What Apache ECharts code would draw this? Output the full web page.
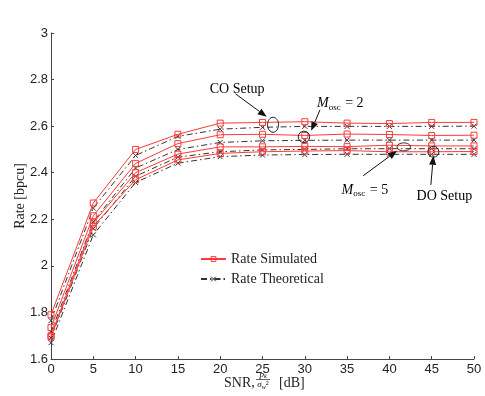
<!DOCTYPE html>
<html>
<head>
<meta charset="utf-8">
<script src="https://cdn.jsdelivr.net/npm/echarts@6/dist/echarts.min.js"></script>
<style>
  html, body { margin: 0; padding: 0; background: #fff; }
  #chart { width: 485px; height: 396px; }
</style>
</head>
<body>
<div id="chart"></div>
<script>
// SNR values in dB
const snr = [0, 5, 10, 15, 20, 25, 30, 35, 40, 45, 50];

// simulated rates (red, squares)
const simCO = [1.79, 2.27, 2.50, 2.565, 2.613, 2.616, 2.619, 2.613, 2.611, 2.616, 2.616];
const simM2 = [1.735, 2.215, 2.44, 2.525, 2.563, 2.565, 2.560, 2.566, 2.564, 2.560, 2.561];
const simM5 = [1.70, 2.185, 2.40, 2.48, 2.511, 2.511, 2.513, 2.512, 2.518, 2.515, 2.515];
const simDO = [1.695, 2.17, 2.37, 2.455, 2.483, 2.490, 2.493, 2.495, 2.490, 2.490, 2.491];

// theoretical rates (black, crosses)
const theoCO = [1.765, 2.248, 2.474, 2.556, 2.587, 2.595, 2.599, 2.599, 2.599, 2.599, 2.600];
const theoM2 = [1.715, 2.19, 2.42, 2.50, 2.53, 2.537, 2.539, 2.540, 2.540, 2.540, 2.540];
const theoM5 = [1.69, 2.16, 2.385, 2.467, 2.49, 2.498, 2.500, 2.503, 2.503, 2.503, 2.503];
const theoDO = [1.67, 2.133, 2.358, 2.441, 2.469, 2.476, 2.478, 2.479, 2.479, 2.479, 2.479];

const yTicks = [1.6, 1.8, 2, 2.2, 2.4, 2.6, 2.8, 3];

// annotations, in data coordinates: label, text pos, arrow start, arrow tip, mark centre, mark radii (px)
const notes = [
  { text: "{t|CO Setup}", pos: [22.0, 2.756], from: [21.8, 2.739], to: [25.5, 2.640], mark: [26.25, 2.606], r: [5.5, 7.5] },
  { text: "{m|M}{s|osc}{t| = 2}", pos: [34.2, 2.696], from: [31.8, 2.670], to: [30.75, 2.580], mark: [29.9, 2.554], r: [5.7, 5.7] },
  { text: "{m|M}{s|osc}{t| = 5}", pos: [37.1, 2.326], from: [36.9, 2.387], to: [40.9, 2.494], mark: [41.7, 2.511], r: [6.7, 4] },
  { text: "{t|DO Setup}", pos: [46.5, 2.30], from: [44.9, 2.348], to: [45.2, 2.473], mark: [45.2, 2.490], r: [5.5, 5.5] }
];

const serif = "Liberation Serif";
const sans = "Liberation Sans";
const crossPath = "path://M0,0L10,10M10,0L0,10";

function pairs(ys) {
  return snr.map((x, i) => [x, ys[i]]);
}

function simSeries(ys) {
  return {
    name: "Rate Simulated",
    type: "line",
    data: pairs(ys),
    symbol: "rect",
    symbolSize: 6,
    showAllSymbol: true,
    lineStyle: { color: "#ff3a3a", width: 1 },
    itemStyle: { color: "rgba(255,255,255,0)", borderColor: "#ff3a3a", borderWidth: 1 },
    emphasis: { disabled: true },
    z: 3
  };
}

function theoSeries(ys) {
  return {
    name: "Rate Theoretical",
    type: "line",
    data: pairs(ys),
    symbol: crossPath,
    symbolSize: 5,
    showAllSymbol: true,
    lineStyle: { color: "#333", width: 1, type: [6, 3, 1.5, 3] },
    itemStyle: { color: "rgba(0,0,0,0)", borderColor: "#333", borderWidth: 1 },
    emphasis: { disabled: true },
    z: 2
  };
}

const chart = echarts.init(document.getElementById("chart"));

const option = {
  animation: false,
  backgroundColor: "#fff",
  grid: { left: 51, right: 11, top: 33, bottom: 37 },
  legend: {
    data: ["Rate Simulated", "Rate Theoretical"],
    orient: "vertical",
    left: 195,
    top: 247,
    itemWidth: 25,
    itemHeight: 6,
    itemGap: 6,
    itemStyle: { borderWidth: 1 },
    textStyle: { fontFamily: serif, fontSize: 14, color: "#222" }
  },
  xAxis: {
    type: "value",
    min: 0,
    max: 50,
    interval: 5,
    axisLine: { lineStyle: { color: "#444", width: 1 } },
    axisTick: { inside: true, length: 3, lineStyle: { color: "#444" } },
    axisLabel: { fontFamily: sans, fontSize: 13, color: "#222", margin: 4 },
    splitLine: { show: false }
  },
  yAxis: {
    type: "value",
    min: 1.6,
    max: 3,
    interval: 0.2,
    name: "Rate [bpcu]",
    nameLocation: "middle",
    nameGap: 24,
    nameMoveOverlap: false,
    nameTextStyle: { fontFamily: serif, fontSize: 14, color: "#222" },
    axisLine: { show: true, lineStyle: { color: "#444", width: 1 } },
    axisTick: { show: true, inside: true, length: 3, lineStyle: { color: "#444" } },
    axisLabel: {
      fontFamily: sans, fontSize: 13, color: "#222", margin: 3,
      formatter: (v) => {
        const t = yTicks.find((k) => Math.abs(k - v) < 1e-6);
        return t === undefined ? "" : String(t);
      }
    },
    splitLine: { show: false }
  },
  series: [
    simSeries(simCO), simSeries(simM2), simSeries(simM5), simSeries(simDO),
    theoSeries(theoCO), theoSeries(theoM2), theoSeries(theoM5), theoSeries(theoDO)
  ]
};

chart.setOption(option);

// annotations and x axis label drawn as graphics, anchored on the data scale
const rich = {
  t: { fontFamily: serif, fontSize: 14, color: "#222" },
  m: { fontFamily: serif, fontSize: 14, fontStyle: "italic", color: "#222" },
  s: { fontFamily: serif, fontSize: 9, color: "#222", padding: [7, 1, 0, 0] }
};

const elements = [];
notes.forEach((n) => {
  const p = chart.convertToPixel({ gridIndex: 0 }, n.pos);
  const a = chart.convertToPixel({ gridIndex: 0 }, n.from);
  const b = chart.convertToPixel({ gridIndex: 0 }, n.to);
  const c = chart.convertToPixel({ gridIndex: 0 }, n.mark);
  elements.push({
    type: "text", x: p[0], y: p[1], z: 10,
    style: { text: n.text, rich: rich, align: "center", verticalAlign: "middle" }
  });
  const ang = Math.atan2(b[1] - a[1], b[0] - a[0]);
  const L = 9, W = 3.5;
  const bx = b[0] - L * Math.cos(ang), by = b[1] - L * Math.sin(ang);
  elements.push({
    type: "line", z: 10,
    shape: { x1: a[0], y1: a[1], x2: bx, y2: by },
    style: { stroke: "#111", lineWidth: 1 }
  });
  elements.push({
    type: "polygon", z: 10,
    shape: { points: [
      [b[0], b[1]],
      [bx + W * Math.sin(ang), by - W * Math.cos(ang)],
      [bx - W * Math.sin(ang), by + W * Math.cos(ang)]
    ] },
    style: { fill: "#111" }
  });
  elements.push({
    type: "ellipse", z: 10,
    shape: { cx: c[0], cy: c[1], rx: n.r[0], ry: n.r[1] },
    style: { fill: "none", stroke: "#222", lineWidth: 1 }
  });
});

// x axis name: SNR, p_k / sigma_w^2 [dB]
elements.push(
  { type: "text", x: 224, y: 383, style: { text: "SNR,", fontFamily: serif, fontSize: 14, fill: "#222", verticalAlign: "middle" } },
  { type: "text", x: 263, y: 379, style: { text: "{i|p}{b|k}", rich: { i: { fontFamily: serif, fontStyle: "italic", fontSize: 9, color: "#222" }, b: { fontFamily: serif, fontStyle: "italic", fontSize: 6, color: "#222", padding: [3, 0, 0, 0] } }, align: "center", verticalAlign: "bottom" } },
  { type: "line", shape: { x1: 256, y1: 379.5, x2: 270, y2: 379.5 }, style: { stroke: "#222", lineWidth: 0.7 } },
  { type: "text", x: 263, y: 380, style: { text: "{i|σ}{b|w}{u|2}", rich: { i: { fontFamily: serif, fontStyle: "italic", fontSize: 9, color: "#222" }, b: { fontFamily: serif, fontStyle: "italic", fontSize: 6, color: "#222", padding: [4, 0, 0, 0] }, u: { fontFamily: serif, fontSize: 6, color: "#222", padding: [0, 0, 4, 0] } }, align: "center", verticalAlign: "top" } },
  { type: "text", x: 279, y: 383, style: { text: "[dB]", fontFamily: serif, fontSize: 14, fill: "#222", verticalAlign: "middle" } }
);

chart.setOption({ graphic: elements });

window.addEventListener("resize", function () {
  chart.resize();
});
</script>
</body>
</html>
